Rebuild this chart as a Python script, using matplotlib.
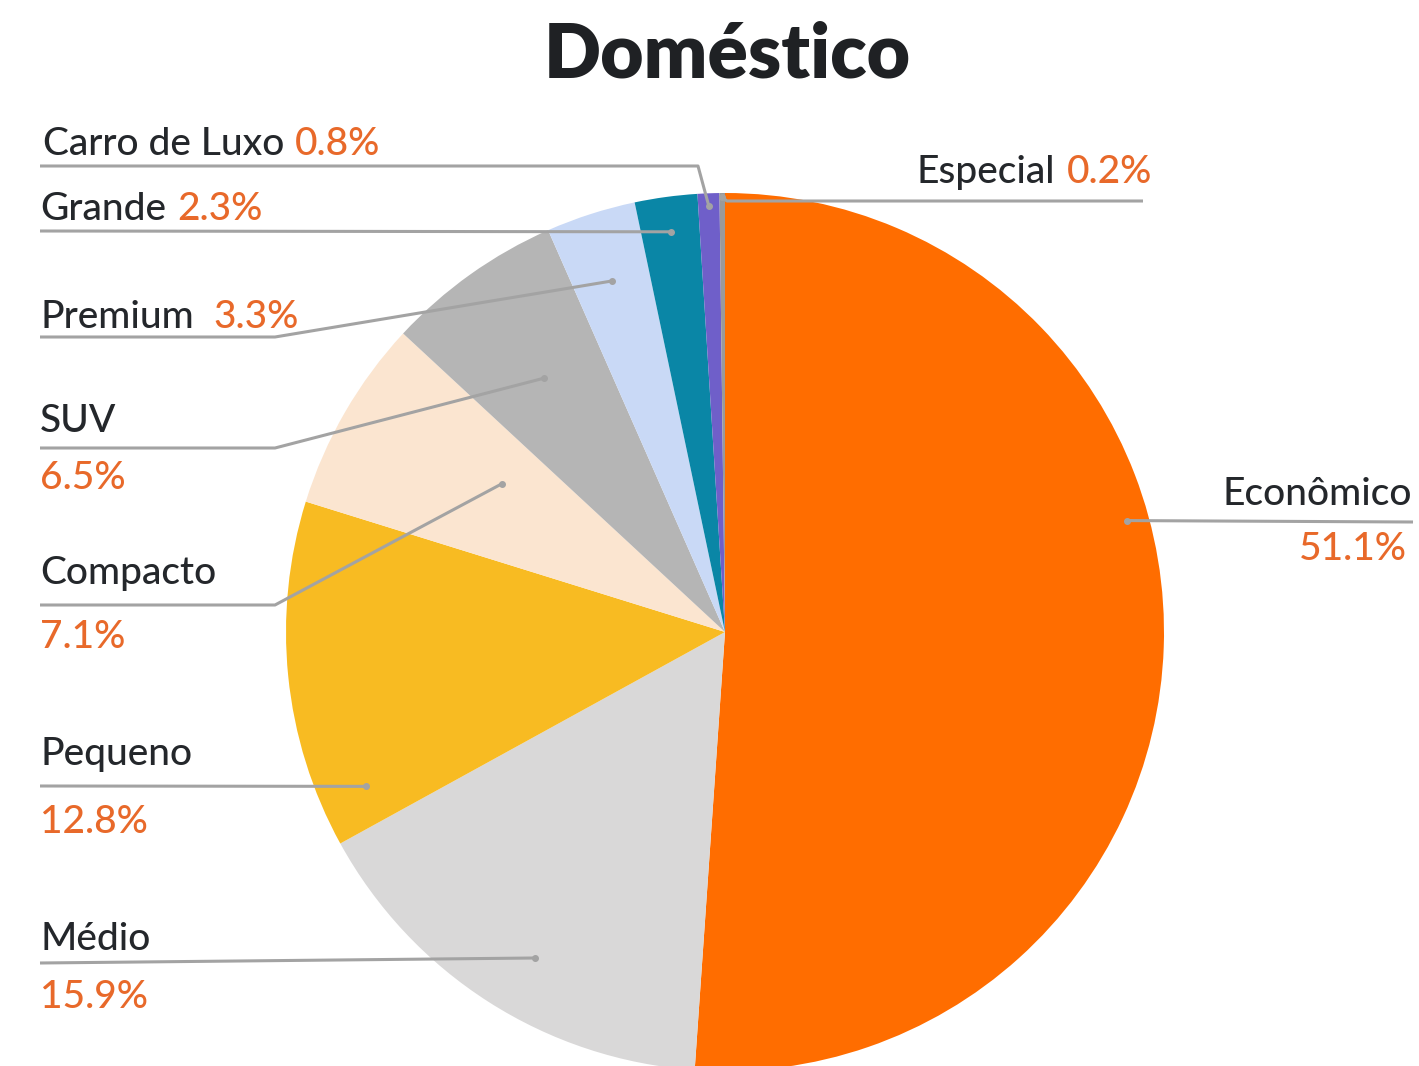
import matplotlib.pyplot as plt
import numpy as np

plt.rcParams['font.family'] = ['Lato', 'DejaVu Sans']

categories = ['Econômico', 'Médio', 'Pequeno', 'Compacto', 'SUV',
              'Premium', 'Grande', 'Carro de Luxo', 'Especial']
shares = [51.1, 15.9, 12.8, 7.1, 6.5, 3.3, 2.3, 0.8, 0.2]
pct_labels = ['51.1%', '15.9%', '12.8%', '7.1%', '6.5%', '3.3%', '2.3%', '0.8%', '0.2%']
colors = ['#FF6D00', '#D9D8D8', '#F8BB22', '#FBE5D0', '#B5B5B5',
          '#C9D9F6', '#0A86A6', '#6F5FC9', '#9A9A9A']

W, H = 1419, 1066
dark = '#24272B'
orange = '#E8692A'
line_c = '#A3A3A3'

fig = plt.figure(figsize=(W / 100, H / 100), dpi=100)
ax = fig.add_axes([0, 0, 1, 1])

cx, cy, R = 725, H - 632, 439
ax.pie(shares, colors=colors, startangle=90, counterclock=False,
       center=(cx, cy), radius=R,
       wedgeprops=dict(linewidth=0))
ax.set_xlim(0, W)
ax.set_ylim(0, H)
ax.set_aspect('auto')
ax.axis('off')

vals = np.array(shares) / sum(shares) * 360
starts = np.concatenate([[0], np.cumsum(vals)[:-1]])


def Y(py):
    return H - py


def anchor(i, frac, rf):
    a = starts[i] + frac * vals[i]
    th = np.radians(90 - a)
    return cx + rf * R * np.cos(th), cy + rf * R * np.sin(th)


# label layout in pixel coords: name pos, percent pos (None = same line), leader path
layout = {
    'Econômico': dict(x=1412, y=505, ha='right', px=1407, py=560, frac=0.405, rf=0.95,
                      path=[(1413, 522)]),
    'Médio': dict(x=40, y=950, ha='left', px=40, py=1008, frac=0.46, rf=0.86,
                  path=[(40, 963)]),
    'Pequeno': dict(x=40, y=765, ha='left', px=40, py=833, frac=0.12, rf=0.89,
                    path=[(40, 786)]),
    'Compacto': dict(x=40, y=584, ha='left', px=40, py=648, frac=0.64, rf=0.61,
                     path=[(275, 605), (40, 605)]),
    'SUV': dict(x=40, y=432, ha='left', px=40, py=489, frac=0.5, rf=0.71,
                path=[(275, 448), (40, 448)]),
    'Premium': dict(x=40, y=328, ha='left', px=None, py=None, frac=0.5, rf=0.84,
                    path=[(275, 337), (40, 337)]),
    'Grande': dict(x=40, y=220, ha='left', px=None, py=None, frac=0.5, rf=0.92,
                   path=[(40, 231)]),
    'Carro de Luxo': dict(x=43, y=155, ha='left', px=None, py=None, frac=0.5, rf=0.97,
                          path=[(698, 166), (40, 166)]),
    'Especial': dict(x=917, y=183, ha='left', px=None, py=None, frac=0.5, rf=0.99,
                     path=[(727, 201), (1143, 201)]),
}

fs = 28
renderer = fig.canvas.get_renderer()
for i, name in enumerate(categories):
    L = layout[name]
    t = ax.text(L['x'], Y(L['y']), name, ha=L['ha'], va='baseline',
                fontsize=fs, color=dark, fontweight='medium')
    if L['px'] is None:
        bb = t.get_window_extent(renderer)
        gap = 20 if name == 'Premium' else 11
        ax.text(bb.x1 + gap, Y(L['y']), pct_labels[i], ha='left', va='baseline',
                fontsize=fs, color=orange, fontweight='medium')
    else:
        ax.text(L['px'], Y(L['py']), pct_labels[i], ha=L['ha'], va='baseline',
                fontsize=fs, color=orange, fontweight='medium')
    ax_, ay_ = anchor(i, L['frac'], L['rf'])
    xs = [ax_] + [p[0] for p in L['path']]
    ys = [ay_] + [Y(p[1]) for p in L['path']]
    ax.plot(xs, ys, color=line_c, lw=2.2, solid_capstyle='butt', zorder=5)
    ax.plot([ax_], [ay_], 'o', color=line_c, ms=4, zorder=6)

ax.text(727, Y(77), 'Doméstico', ha='center', va='baseline',
        fontsize=54, fontweight='heavy', color='#1F2124')

fig.savefig('out.png', dpi=100)
